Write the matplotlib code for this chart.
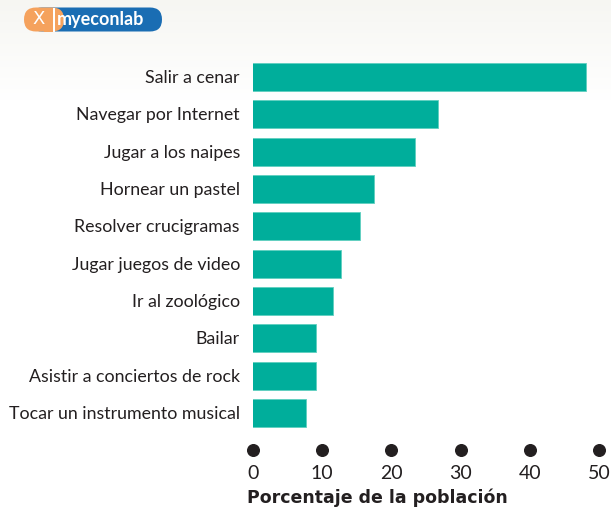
import numpy as np
import matplotlib
matplotlib.use("Agg")
import matplotlib.pyplot as plt
from matplotlib.patches import FancyBboxPatch, Rectangle

categories = ["Salir a cenar", "Navegar por Internet", "Jugar a los naipes",
              "Hornear un pastel", "Resolver crucigramas", "Jugar juegos de video",
              "Ir al zoológico", "Bailar", "Asistir a conciertos de rock",
              "Tocar un instrumento musical"]
values = [48.2, 26.9, 23.6, 17.6, 15.6, 12.9, 11.7, 9.2, 9.2, 7.8]
ticks = [0, 10, 20, 30, 40, 50]
xlabel = "Porcentaje de la población"

W, H = 611, 514
fig = plt.figure(figsize=(W / 100, H / 100), dpi=100)

# background gradient
bg = fig.add_axes([0, 0, 1, 1], zorder=-10)
grad = np.ones((H, 1, 3))
for r in range(H):
    t = min(r / 100.0, 1.0)
    c = np.array([0.965, 0.965, 0.95]) * (1 - t) + np.array([1, 1, 1]) * t
    grad[r, 0] = c
bg.imshow(grad, aspect="auto", extent=[0, W, H, 0])
bg.set_xlim(0, W); bg.set_ylim(H, 0); bg.axis("off")

# logo
orange = "#f5a25d"
blue = "#1a6db3"
bg.add_patch(FancyBboxPatch((30, 7.5), 132, 24, boxstyle="round,pad=0,rounding_size=12",
                            fc=blue, ec="none"))
bg.add_patch(FancyBboxPatch((24, 7.5), 40, 24, boxstyle="round,pad=0,rounding_size=12",
                            fc=orange, ec="none"))
bg.add_patch(Rectangle((44, 7.5), 9, 24, fc=orange, ec="none"))
bg.text(39, 19.5, "X", color="white", fontsize=13, ha="center", va="center",
        family="DejaVu Sans")
bg.add_patch(Rectangle((53, 7.5), 1.5, 24, fc="white", ec="none"))
bg.text(57, 19.5, "myeconlab", color="white", fontsize=13, ha="left", va="center",
        family="Lato", fontweight="bold")

# main axes: index i -> pixel y = 77 + 37.33 i
left_px, right_px = 253, 599
top_px, bot_px = 58.3, 469.0
ax = fig.add_axes([left_px / W, 1 - bot_px / H, (right_px - left_px) / W,
                   (bot_px - top_px) / H])
ax.set_xlim(0, 50)
ax.set_ylim(10.5, -0.5)
ax.axis("off")

teal = "#00ae9b"
y = np.arange(len(categories))
ax.barh(y, values, height=0.75, left=-0.15, color=teal, edgecolor="#5fcfc0", linewidth=0.6)

txtc = "#231f20"
for i, c in enumerate(categories):
    ax.text(-1.88, i + 0.03, c, ha="right", va="center", fontsize=12.8, color=txtc,
            family="Lato", clip_on=False)

dot_row = len(categories)
ax.scatter(ticks, [dot_row] * len(ticks), s=70, color=txtc, clip_on=False, zorder=5)
for t in ticks:
    ax.text(t, dot_row + 0.62, str(t), ha="center", va="center", fontsize=14,
            color=txtc, family="Lato", clip_on=False)
ax.text(-0.9, dot_row + 1.27, xlabel, ha="left", va="center", fontsize=12.5,
        fontweight="bold", color=txtc, family="DejaVu Sans", clip_on=False)

fig.savefig("out.png", dpi=100)
